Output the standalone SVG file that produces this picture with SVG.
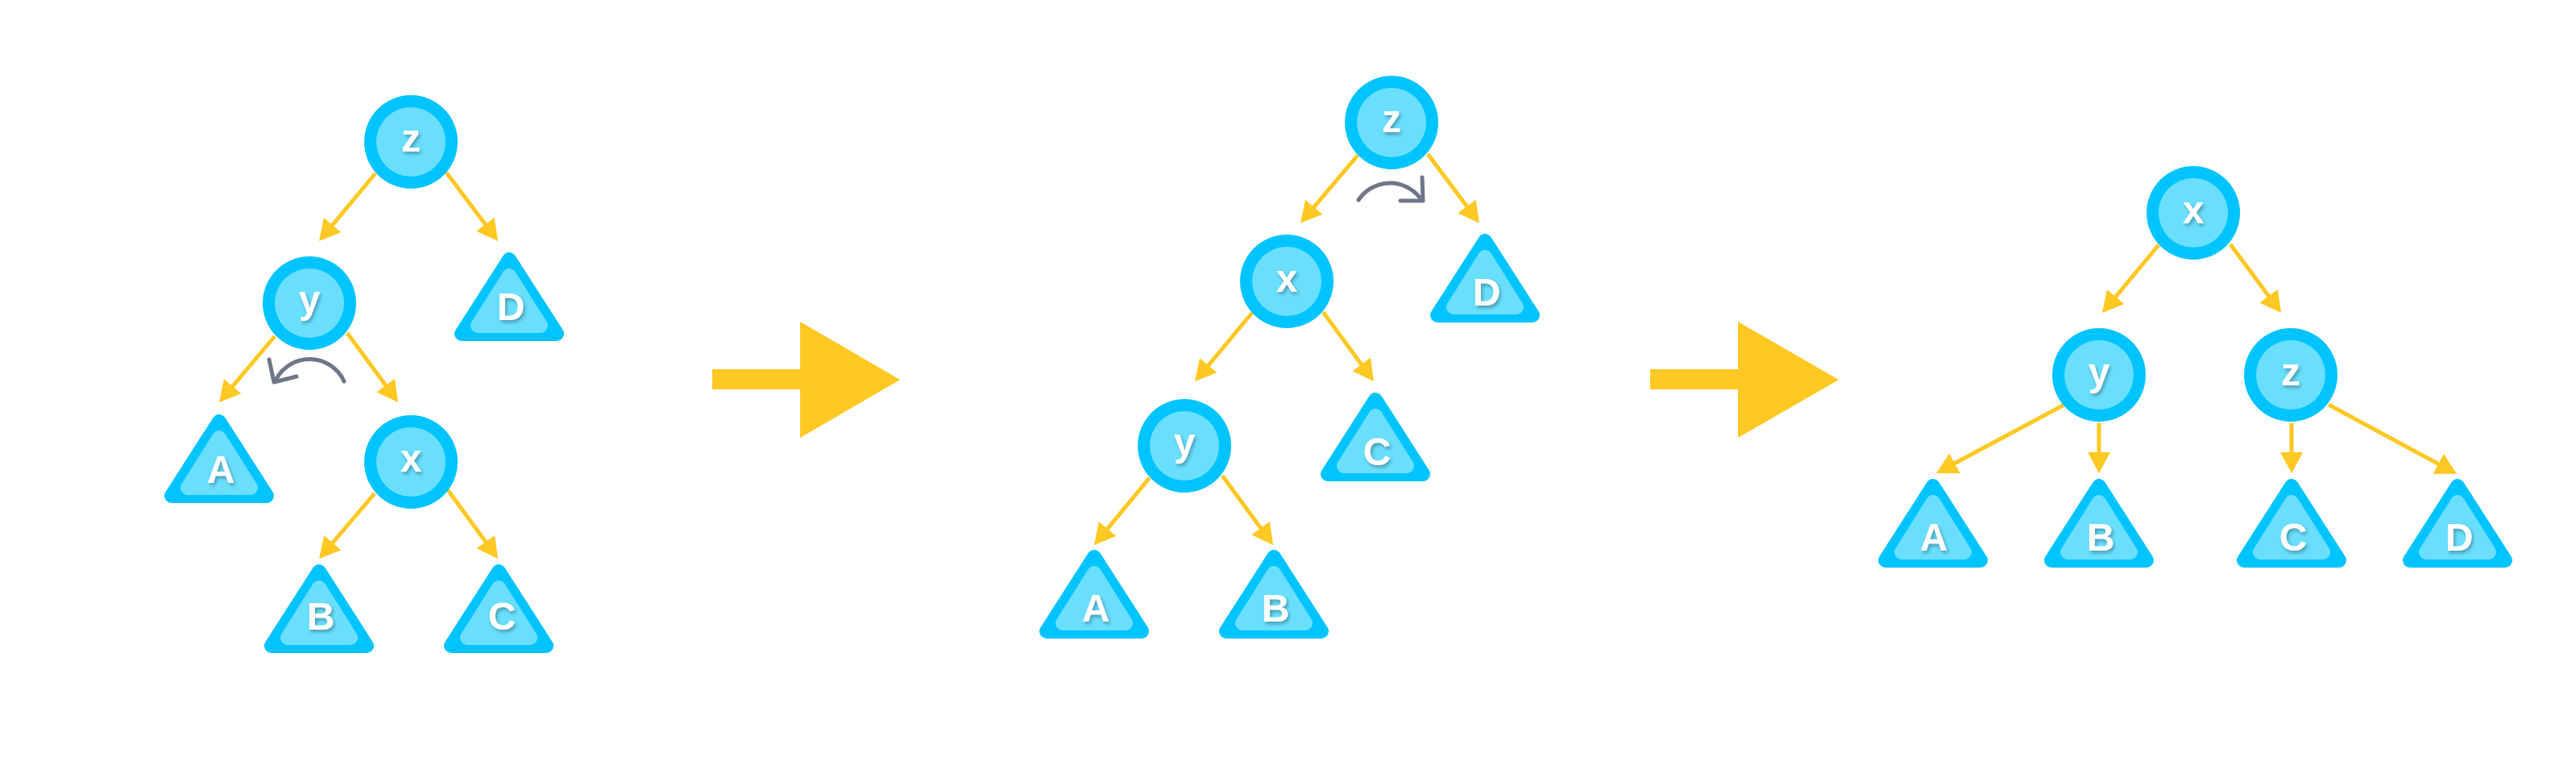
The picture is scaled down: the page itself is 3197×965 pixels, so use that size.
<svg xmlns="http://www.w3.org/2000/svg" width="3197" height="965" viewBox="0 0 3197 965">
<style>
.to{fill:#00C4FF;stroke:#00C4FF;stroke-width:18;stroke-linejoin:round}
.ti{fill:#6ADFFD;stroke:#6ADFFD;stroke-width:18;stroke-linejoin:round}
.co{fill:#00C4FF}
.ci{fill:#6ADFFD}
.lbl{font-family:"Liberation Sans",Arial,sans-serif;font-weight:700;font-size:48px;fill:#FFFFFF;text-anchor:middle;filter:url(#ts)}
.edge{stroke:#FFC822;stroke-width:5;fill:none;marker-end:url(#ah)}
.rot{stroke:#6E7788;stroke-width:5;fill:none;stroke-linecap:round;stroke-linejoin:round}
.big{fill:#FFC822}
</style>
<defs>
<filter id="ts" x="-30%" y="-30%" width="160%" height="160%">
<feDropShadow dx="2" dy="3" stdDeviation="2" flood-color="#000000" flood-opacity="0.3"/>
</filter>
<marker id="ah" markerUnits="userSpaceOnUse" markerWidth="26" markerHeight="28" viewBox="0 0 26 28" refX="14" refY="14" orient="auto">
<path d="M0,0 L26,14 L0,28 z" fill="#FFC822"/>
</marker>
<g id="tri">
<polygon class="to" points="0,9 -59,101 59,101"/>
<polygon class="ti" points="0,29 -39,91 39,91"/>
</g>
<g id="circ">
<circle class="co" r="58"/>
<circle class="ci" r="43"/>
</g>
</defs>
<rect width="3197" height="965" fill="#FFFFFF"/>

<g id="connectors">
<path class="edge" d="M466,215 L403.7,289.8"/>
<path class="edge" d="M554,214 L610.8,289.4"/>
<path class="edge" d="M341,417 L279.7,489.8"/>
<path class="edge" d="M431,413 L486.9,489.3"/>
<path class="edge" d="M465,612 L403.8,683.9"/>
<path class="edge" d="M556,608 L610.9,683.3"/>

<path class="edge" d="M1685,192.7 L1621.7,267.5"/>
<path class="edge" d="M1772,191 L1828.8,267.1"/>
<path class="edge" d="M1554,388 L1490.7,463.8"/>
<path class="edge" d="M1642,387 L1697.9,463.3"/>
<path class="edge" d="M1426.7,592.7 L1365.6,666.7"/>
<path class="edge" d="M1517,590 L1572.9,666.3"/>

<path class="edge" d="M2679,304 L2616.7,378.8"/>
<path class="edge" d="M2768,303 L2823.9,378.4"/>
<path class="edge" d="M2561,502.5 L2413.6,581.3"/>
<path class="edge" d="M2605,524.6 L2605,575"/>
<path class="edge" d="M2844,524.6 L2844,575"/>
<path class="edge" d="M2890,502 L3038.4,582"/>
</g>

<g id="rotations">
<path class="rot" d="M427,473 A47,47 0 0,0 343,470"/>
<path class="rot" d="M334,446 L340,474 L368,467"/>
<path class="rot" d="M1686,248 A47,47 0 0,1 1762,245"/>
<path class="rot" d="M1765,220 L1766,249 L1738,249"/>
</g>

<g id="transition-arrows">
<polygon class="big" points="884,458 993,458 993,399 1117,471 993,543 993,483 884,483"/>
<polygon class="big" points="2048,458 2157,458 2157,399 2282,471 2157,543 2157,483 2048,483"/>
</g>

<g id="t1-z"><use href="#circ" x="510" y="176"/><text class="lbl" x="510" y="188">z</text></g>
<g id="t1-y"><use href="#circ" x="384" y="376"/><text class="lbl" x="384" y="388">y</text></g>
<g id="t1-x"><use href="#circ" x="510" y="573"/><text class="lbl" x="510" y="585">x</text></g>
<g id="t1-D"><use href="#tri" x="632" y="313"/><text class="lbl" x="634" y="397">D</text></g>
<g id="t1-A"><use href="#tri" x="272" y="514"/><text class="lbl" x="274" y="599">A</text></g>
<g id="t1-B"><use href="#tri" x="396" y="700"/><text class="lbl" x="398" y="781">B</text></g>
<g id="t1-C"><use href="#tri" x="619" y="700"/><text class="lbl" x="623" y="781">C</text></g>

<g id="t2-z"><use href="#circ" x="1727" y="152"/><text class="lbl" x="1727" y="164">z</text></g>
<g id="t2-x"><use href="#circ" x="1597" y="349"/><text class="lbl" x="1597" y="362">x</text></g>
<g id="t2-y"><use href="#circ" x="1470" y="553"/><text class="lbl" x="1470" y="565">y</text></g>
<g id="t2-D"><use href="#tri" x="1843" y="290"/><text class="lbl" x="1845" y="379">D</text></g>
<g id="t2-C"><use href="#tri" x="1707" y="487"/><text class="lbl" x="1709" y="577">C</text></g>
<g id="t2-A"><use href="#tri" x="1358" y="682"/><text class="lbl" x="1360" y="771">A</text></g>
<g id="t2-B"><use href="#tri" x="1581" y="682"/><text class="lbl" x="1583" y="771">B</text></g>

<g id="t3-x"><use href="#circ" x="2722" y="264"/><text class="lbl" x="2722" y="277">x</text></g>
<g id="t3-y"><use href="#circ" x="2605" y="465"/><text class="lbl" x="2605" y="478">y</text></g>
<g id="t3-z"><use href="#circ" x="2843" y="465"/><text class="lbl" x="2843" y="478">z</text></g>
<g id="t3-A"><use href="#tri" x="2399" y="594"/><text class="lbl" x="2400" y="683">A</text></g>
<g id="t3-B"><use href="#tri" x="2605" y="594"/><text class="lbl" x="2607" y="683">B</text></g>
<g id="t3-C"><use href="#tri" x="2844" y="594"/><text class="lbl" x="2846" y="683">C</text></g>
<g id="t3-D"><use href="#tri" x="3050" y="594"/><text class="lbl" x="3052" y="683">D</text></g>
</svg>
